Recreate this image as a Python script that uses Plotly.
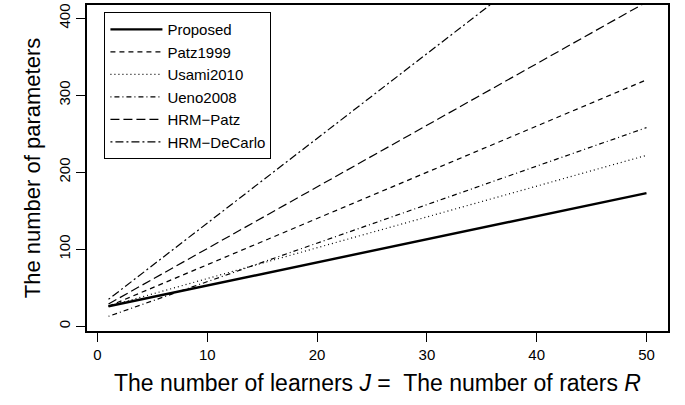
import plotly.graph_objects as go

# Data: number of parameters at J = R = 1 and J = R = 50 (straight lines)
J = [1, 50]
proposed = [26, 173]
patz1999 = [26, 320]
usami2010 = [26, 222]
ueno2008 = [13, 258]
hrm_patz = [29, 421]
hrm_decarlo = [35, 574]

series = [
    ("Proposed", proposed, "solid", 2.4),
    ("Patz1999", patz1999, "5px,4px", 1.2),
    ("Usami2010", usami2010, "1px,3px", 1.2),
    ("Ueno2008", ueno2008, "1px,3px,5px,3px", 1.2),
    ("HRM\u2212Patz", hrm_patz, "9px,4px", 1.2),
    ("HRM\u2212DeCarlo", hrm_decarlo, "2px,3px,8px,3px", 1.2),
]

x_ticks = [0, 10, 20, 30, 40, 50]
y_ticks = [0, 100, 200, 300, 400]

fig = go.Figure()
for name, vals, dash, w in series:
    fig.add_trace(go.Scatter(
        x=J, y=vals, mode="lines", name=name,
        line=dict(color="black", width=w, dash=dash),
    ))

font_family = "Liberation Sans, Arial, sans-serif"
fig.update_layout(
    width=685, height=405,
    margin=dict(l=87, r=17, t=5, b=74),
    paper_bgcolor="white", plot_bgcolor="white",
    font=dict(family=font_family, color="black"),
    showlegend=True,
    legend=dict(
        x=0.03, y=0.978, xanchor="left", yanchor="top",
        bgcolor="white", bordercolor="black", borderwidth=1,
        font=dict(size=15, family=font_family),
        tracegroupgap=0, itemwidth=52,
    ),
    xaxis=dict(
        range=[-0.96, 51.96], tickvals=x_ticks, ticktext=[str(v) for v in x_ticks],
        showgrid=False, zeroline=False, automargin=False,
        showline=True, mirror=True, linecolor="black", linewidth=1.5,
        ticks="outside", ticklen=9, tickwidth=1.2, tickcolor="black",
        tickfont=dict(size=15),
        title=dict(text="The number of learners <i>J</i> =  The number of raters <i>R</i>",
                   font=dict(size=23), standoff=13),
    ),
    yaxis=dict(
        range=[-6.1, 417.2], tickvals=y_ticks, ticktext=[str(v) for v in y_ticks],
        showgrid=False, zeroline=False, automargin=False,
        showline=True, mirror=True, linecolor="black", linewidth=1.5,
        ticks="outside", ticklen=9, tickwidth=1.2, tickcolor="black",
        tickfont=dict(size=15), tickangle=-90,
        title=dict(text="The number of parameters", font=dict(size=22), standoff=10),
    ),
)

fig.write_html(
    "out.html",
    config={"displayModeBar": False},
    post_script="document.body.style.margin='0';document.body.style.padding='0';",
)
